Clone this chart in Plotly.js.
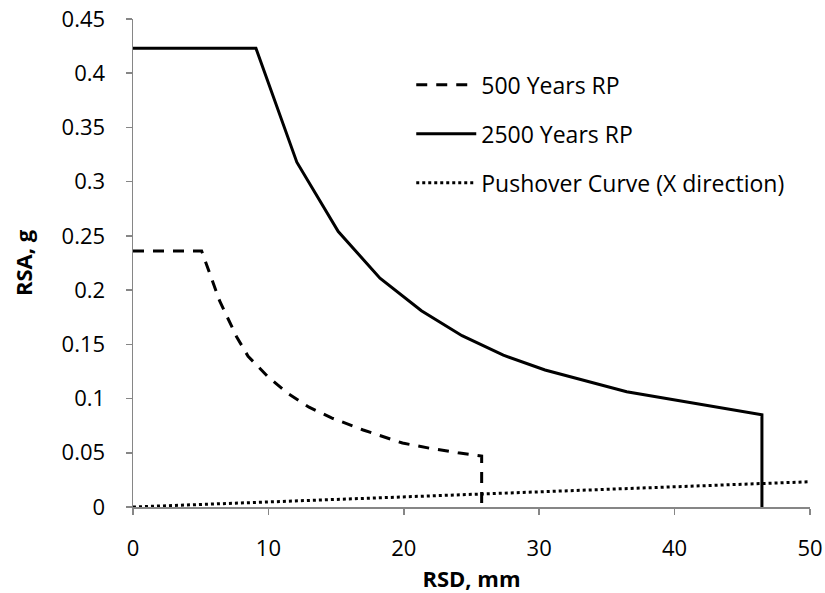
<!DOCTYPE html>
<html>
<head>
<meta charset="utf-8">
<script src="https://cdn.plot.ly/plotly-3.0.1.min.js"></script>
<style>html,body{margin:0;padding:0;background:#fff;}#chart{width:825px;height:593px;}</style>
</head>
<body>
<div id="chart"></div>
<script>
const rp500X = [0, 5.07, 6.4, 7.65, 8.5, 9.9, 11.4, 13.0, 14.7, 17.0, 19.9, 22.0, 24.0, 25.75, 25.75];
const rp500Y = [0.236, 0.236, 0.19, 0.157, 0.139, 0.121, 0.105, 0.092, 0.082, 0.071, 0.059, 0.054, 0.050, 0.047, 0];
const rp2500X = [0, 9.08, 12.1, 15.16, 18.24, 21.3, 24.3, 27.35, 30.43, 36.46, 46.45, 46.45];
const rp2500Y = [0.423, 0.423, 0.318, 0.254, 0.211, 0.181, 0.158, 0.140, 0.1263, 0.1063, 0.085, 0];
const pushX = [0, 25.75, 50];
const pushY = [0, 0.0122, 0.0233];
const names = ['500 Years RP', '2500 Years RP', 'Pushover Curve (X direction)'];
const xTicks = [0, 10, 20, 30, 40, 50];
const yTicks = [0, 0.05, 0.1, 0.15, 0.2, 0.25, 0.3, 0.35, 0.4, 0.45];
const yTickText = ['0', '0.05', '0.1', '0.15', '0.2', '0.25', '0.3', '0.35', '0.4', '0.45'];

const font = '"Open Sans", "Noto Sans", sans-serif';
const traces = [
  {x: rp500X, y: rp500Y, name: names[0], legendgroup: 'a', mode: 'lines', line: {color: '#000', width: 3, dash: '11px,9px'}},
  {x: rp2500X, y: rp2500Y, name: names[1], legendgroup: 'b', mode: 'lines', line: {color: '#000', width: 3}},
  {x: pushX, y: pushY, name: names[2], legendgroup: 'c', mode: 'lines', line: {color: '#000', width: 3, dash: 'dot'}}
];
const axisBase = {
  showgrid: false, zeroline: false, showline: true, linecolor: '#868686', linewidth: 1.5,
  ticks: 'outside', ticklen: 6, tickcolor: '#868686', tickwidth: 1.5,
  tickfont: {family: font, size: 22, color: '#000'}
};
const layout = {
  width: 825, height: 593,
  margin: {l: 133, r: 15, t: 19, b: 86},
  paper_bgcolor: '#fff', plot_bgcolor: '#fff',
  showlegend: true,
  legend: {x: 0.411, y: 0.909, xanchor: 'left', yanchor: 'top', font: {family: font, size: 23, color: '#000'},
           bgcolor: 'rgba(0,0,0,0)', tracegroupgap: 16, itemwidth: 60},
  xaxis: Object.assign({}, axisBase, {range: [0, 50], tickvals: xTicks, ticklabelstandoff: 15,
    title: {text: '<b>RSD, mm</b>', font: {family: font, size: 22, color: '#000'}, standoff: 14}}),
  yaxis: Object.assign({}, axisBase, {range: [0, 0.45], tickvals: yTicks, ticktext: yTickText, ticklabelstandoff: 16,
    title: {text: '<b>RSA, g</b>', font: {family: font, size: 22, color: '#000'}, standoff: 23}})
};
Plotly.newPlot('chart', traces, layout, {displayModeBar: false, staticPlot: true});
</script>
</body>
</html>
